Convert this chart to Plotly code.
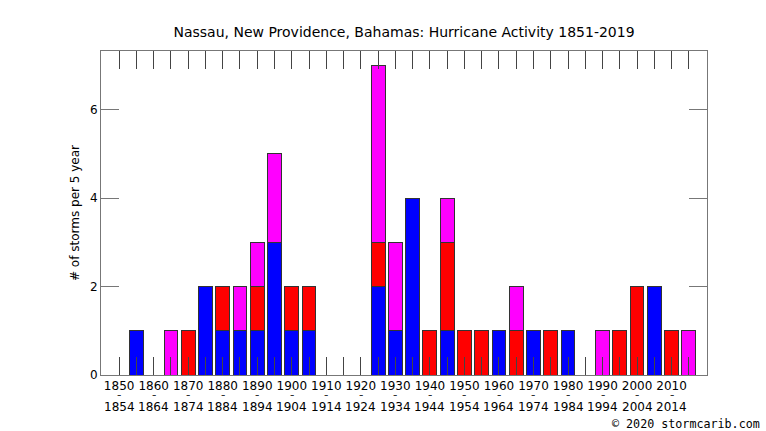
import plotly.graph_objects as go

starts = list(range(1850, 2020, 5))
blue    = [0,1,0,0,0,2,1,1,1,3,1,1,0,0,0,2,1,4,0,1,0,0,1,0,1,0,1,0,0,0,0,2,0,0]
red     = [0,0,0,0,1,0,1,0,1,0,1,1,0,0,0,1,0,0,1,2,1,1,0,1,0,1,0,0,0,1,2,0,1,0]
magenta = [0,0,0,1,0,0,0,1,1,2,0,0,0,0,0,4,2,0,0,1,0,0,0,1,0,0,0,0,1,0,0,0,0,1]

idx = list(range(len(starts)))
ticktext = [str(s) if i % 2 == 0 else "" for i, s in enumerate(starts)]

L, R, T, B = 101, 707, 51, 375
W, H = 766, 431
pw, ph = R - L, B - T

def py(pix):
    return (B - pix) / ph

fig = go.Figure()
for vals, col in [(blue, "#0000FF"), (red, "#FF0000"), (magenta, "#FF00FF")]:
    fig.add_trace(go.Bar(x=idx, y=vals, marker=dict(color=col, line=dict(color="#333333", width=1)),
                         width=0.8, showlegend=False, hoverinfo="skip"))

ann = []
for i, s in enumerate(starts):
    if i % 2 == 0:
        ann.append(dict(text="-", x=i, xref="x", yref="paper", y=py(395), yanchor="middle",
                        showarrow=False, font=dict(size=12, color="#333333")))
        ann.append(dict(text=str(s + 4), x=i, xref="x", yref="paper", y=py(407), yanchor="middle",
                        showarrow=False, font=dict(size=12)))
ann.append(dict(text="© 2020 stormcarib.com", xref="paper", yref="paper",
                x=(762 - L) / pw, y=py(424), xanchor="right", yanchor="middle",
                showarrow=False, font=dict(family="DejaVu Sans Mono", size=11.7)))

fig.update_layout(
    barmode="stack",
    width=W, height=H,
    margin=dict(l=L, r=W - R, t=T, b=H - B),
    plot_bgcolor="white", paper_bgcolor="white",
    font=dict(family="DejaVu Sans", size=12, color="black"),
    title=dict(text="Nassau, New Providence, Bahamas: Hurricane Activity 1851-2019",
               x=404 / W, xanchor="center", y=1 - 32 / H, yanchor="middle",
               font=dict(size=14, family="DejaVu Sans")),
    annotations=ann,
)
fig.update_xaxes(range=[-1.05, 34.05], tickvals=idx, ticktext=ticktext, tickangle=0,
                 ticks="inside", ticklen=18, tickcolor="#444444", tickwidth=1,
                 showline=True, linecolor="#777777", linewidth=1, mirror="ticks",
                 showgrid=False, zeroline=False, automargin=False, ticklabelstandoff=0)
fig.update_yaxes(range=[0, 7.33], tickvals=[0, 2, 4, 6], ticks="inside", ticklen=18,
                 tickcolor="#777777", tickwidth=1,
                 showline=True, linecolor="#777777", linewidth=1, mirror="ticks",
                 showgrid=False, zeroline=False, automargin=False,
                 title=dict(text="# of storms per 5 year", standoff=7, font=dict(size=12)))

fig.write_html("out.html", config={"displayModeBar": False},
               post_script="document.body.style.margin='0';")
